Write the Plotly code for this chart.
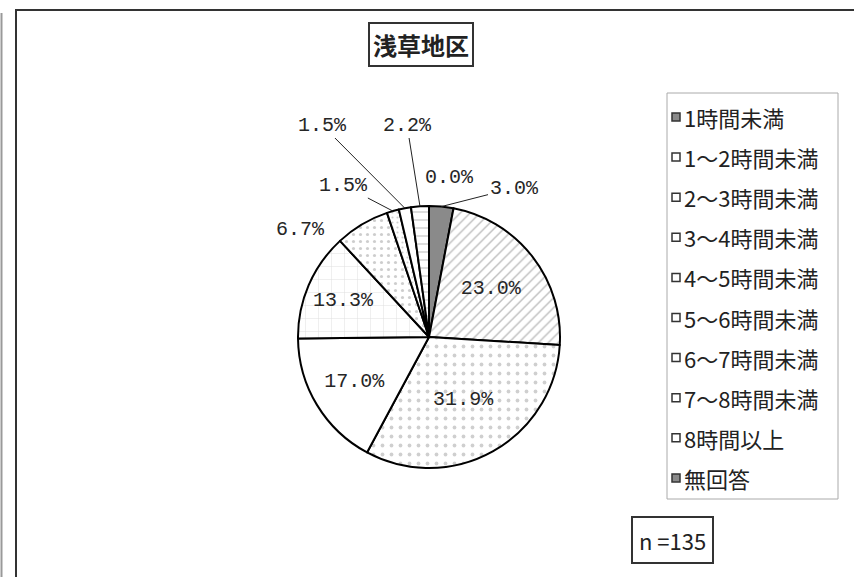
import math
import plotly.graph_objects as go

# ---------------- data ----------------
categories = ["1時間未満", "1～2時間未満", "2～3時間未満", "3～4時間未満", "4～5時間未満",
              "5～6時間未満", "6～7時間未満", "7～8時間未満", "8時間以上", "無回答"]
values = [3.0, 23.0, 31.9, 17.0, 13.3, 6.7, 1.5, 1.5, 2.2, 0.0]
title_text = "浅草地区"
n_text = "n =135"

# ---------------- styling ----------------
W, H = 854, 577
CX, CY, R = 429, 337, 131  # pie centre / radius in pixels

fill_colors = ["#8a8a8a", "white", "white", "white", "white",
               "white", "white", "white", "white", "#8a8a8a"]
pat_shapes = ["", "/", ".", "", "+", ".", ".", "", "-", ""]
pat_fg = ["#8a8a8a", "#7c7c7c", "#a0a0a0", "#ffffff", "#c0c0c0",
          "#9c9c9c", "#a0a0a0", "#ffffff", "#a8a8a8", "#8a8a8a"]
pat_size = [8, 7, 9, 8, 13, 7, 5, 8, 8, 8]
pat_sol = [0.3, 0.2, 0.14, 0.3, 0.08, 0.16, 0.15, 0.3, 0.2, 0.3]
text_pos = ["none", "inside", "inside", "inside", "inside",
            "none", "none", "none", "none", "none"]

NUM_FONT = "Liberation Mono"
JP_FONT = "Noto Sans CJK JP"
TXT = "#262626"


def px(x, y):
    return x / W, 1 - y / H


fig = go.Figure()
fig.add_trace(go.Pie(
    labels=categories, values=values, sort=False, direction="clockwise", rotation=0,
    marker=dict(colors=fill_colors, line=dict(color="black", width=2),
                pattern=dict(shape=pat_shapes, fgcolor=pat_fg, size=pat_size,
                             solidity=pat_sol, fillmode="overlay")),
    texttemplate="%{value:.1f}%", textposition=text_pos,
    insidetextorientation="horizontal",
    textfont=dict(family=NUM_FONT, size=20, color=TXT),
    domain=dict(x=[(CX - R) / W, (CX + R) / W], y=[1 - (CY + R) / H, 1 - (CY - R) / H]),
    showlegend=False, hoverinfo="label+value",
))

# outside labels: (text centre in pixels, draw leader?)
outside = {
    0: ((514, 188), True),
    9: ((449, 177), False),
    8: ((407, 125), True),
    7: ((322, 125), True),
    6: ((343, 185), True),
    5: ((300, 229), False),
}
total = sum(values)
annotations = []
for i, ((tx, ty), lead) in outside.items():
    mid = (sum(values[:i]) + values[i] / 2) / total * 2 * math.pi
    rx = CX + R * math.sin(mid)
    ry = CY - R * math.cos(mid)
    label = f"{values[i]:.1f}%"
    if lead:
        x, y = px(rx, ry)
        annotations.append(dict(x=x, y=y, xref="paper", yref="paper", text=label,
                                showarrow=True, arrowhead=0, arrowwidth=1, arrowcolor="#222",
                                ax=tx - rx, ay=ty - ry, standoff=0,
                                font=dict(family=NUM_FONT, size=20, color=TXT)))
    else:
        x, y = px(tx, ty)
        annotations.append(dict(x=x, y=y, xref="paper", yref="paper", text=label,
                                showarrow=False, xanchor="center", yanchor="middle",
                                font=dict(family=NUM_FONT, size=20, color=TXT)))

# title box
x, y = px(421, 44)
annotations.append(dict(x=x, y=y, xref="paper", yref="paper", text="<b>" + title_text + "</b>",
                        showarrow=False, xanchor="center", yanchor="middle",
                        bordercolor="#333", borderwidth=2, borderpad=3, bgcolor="white",
                        font=dict(family=JP_FONT, size=24, color="#222")))
# n box
x, y = px(672, 540)
annotations.append(dict(x=x, y=y, xref="paper", yref="paper", text=n_text,
                        showarrow=False, xanchor="center", yanchor="middle",
                        bordercolor="#333", borderwidth=2, borderpad=6, bgcolor="white",
                        font=dict(family=JP_FONT, size=22, color="#222")))

shapes = []
# outer frame
x0, y1 = px(16, 10)
shapes.append(dict(type="rect", xref="paper", yref="paper", x0=x0, x1=1.05, y0=-0.05, y1=y1,
                   line=dict(color="#333", width=2), layer="below"))
# faint line at far left
shapes.append(dict(type="line", xref="paper", yref="paper", x0=1.5 / W, x1=1.5 / W,
                   y0=-0.05, y1=1 - 13 / H, line=dict(color="#999", width=2)))

# legend box (manual)
lx0, ly0 = px(667, 93)
lx1, ly1 = px(838, 499)
shapes.append(dict(type="rect", xref="paper", yref="paper", x0=lx0, x1=lx1, y0=ly1, y1=ly0,
                   line=dict(color="#aaa", width=1), fillcolor="white", layer="below"))
for k, cat in enumerate(categories):
    yc = 117 + 40.1 * k
    sw_fill = "#8a8a8a" if fill_colors[k] != "white" else "white"
    a0, b0 = px(672, yc - 4)
    a1, b1 = px(680, yc + 4)
    shapes.append(dict(type="rect", xref="paper", yref="paper", x0=a0, x1=a1, y0=b1, y1=b0,
                       line=dict(color="#333", width=1.5), fillcolor=sw_fill))
    tx, ty = px(682, yc)
    annotations.append(dict(x=tx, y=ty, xref="paper", yref="paper", text=cat,
                            showarrow=False, xanchor="left", yanchor="middle",
                            font=dict(family=JP_FONT, size=22, color="#222")))

fig.update_layout(width=W, height=H, margin=dict(l=0, r=0, t=0, b=0),
                  paper_bgcolor="white", plot_bgcolor="white",
                  annotations=annotations, shapes=shapes, showlegend=False)

fig.write_html("out.html")
